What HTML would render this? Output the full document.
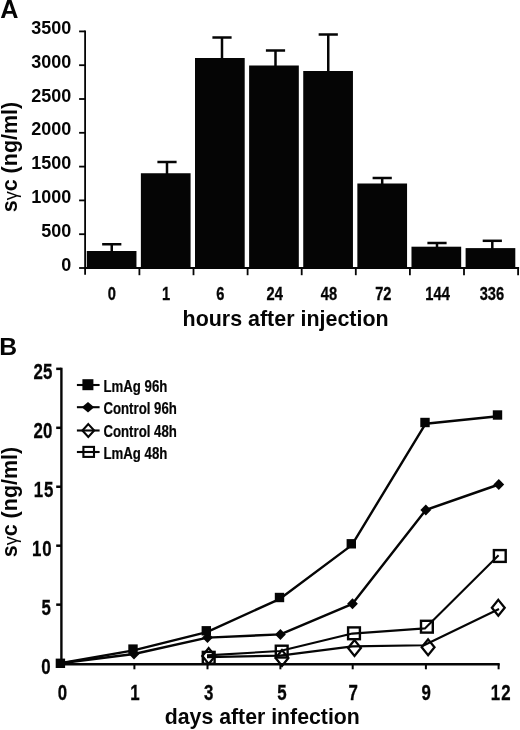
<!DOCTYPE html>
<html lang="en"><head><meta charset="utf-8"><title>Figure</title>
<style>html,body{margin:0;padding:0;background:#fff;}body{width:520px;height:730px;overflow:hidden;}svg{display:block;filter:grayscale(1);}text{font-family:"Liberation Sans", Arial, Helvetica, sans-serif;font-weight:bold;fill:#050505;}</style></head><body>
<svg width="520" height="730" viewBox="0 0 520 730">
<rect x="0" y="0" width="520" height="730" fill="#ffffff"/>
<text x="0.20" y="18.30" font-size="25.20" text-anchor="start">A</text>
<g stroke="#050505" stroke-width="1.8" fill="none" stroke-linecap="butt">
<line x1="85.10" y1="30.50" x2="85.10" y2="274.80"/>
<line x1="79.1" y1="268.00" x2="85.10" y2="268.00"/>
<line x1="79.1" y1="234.20" x2="85.10" y2="234.20"/>
<line x1="79.1" y1="200.40" x2="85.10" y2="200.40"/>
<line x1="79.1" y1="166.60" x2="85.10" y2="166.60"/>
<line x1="79.1" y1="132.80" x2="85.10" y2="132.80"/>
<line x1="79.1" y1="99.00" x2="85.10" y2="99.00"/>
<line x1="79.1" y1="65.20" x2="85.10" y2="65.20"/>
<line x1="79.1" y1="31.40" x2="85.10" y2="31.40"/>
<line x1="84.10" y1="268.00" x2="519.10" y2="268.00"/>
<line x1="139.40" y1="268.00" x2="139.40" y2="275.2"/>
<line x1="193.50" y1="268.00" x2="193.50" y2="275.2"/>
<line x1="247.60" y1="268.00" x2="247.60" y2="275.2"/>
<line x1="301.70" y1="268.00" x2="301.70" y2="275.2"/>
<line x1="355.80" y1="268.00" x2="355.80" y2="275.2"/>
<line x1="409.90" y1="268.00" x2="409.90" y2="275.2"/>
<line x1="464.00" y1="268.00" x2="464.00" y2="275.2"/>
<line x1="518.10" y1="268.00" x2="518.10" y2="275.2"/>
</g>
<text x="71.30" y="270.60" font-size="18.00" text-anchor="end">0</text>
<text x="71.30" y="236.80" font-size="18.00" text-anchor="end">500</text>
<text x="71.30" y="203.00" font-size="18.00" text-anchor="end">1000</text>
<text x="71.30" y="169.20" font-size="18.00" text-anchor="end">1500</text>
<text x="71.30" y="135.40" font-size="18.00" text-anchor="end">2000</text>
<text x="71.30" y="101.60" font-size="18.00" text-anchor="end">2500</text>
<text x="71.30" y="67.80" font-size="18.00" text-anchor="end">3000</text>
<text x="71.30" y="34.00" font-size="18.00" text-anchor="end">3500</text>
<g fill="#050505">
<rect x="86.76" y="251.00" width="49.7" height="17.50"/>
<rect x="140.88" y="173.25" width="49.7" height="95.25"/>
<rect x="195.00" y="58.00" width="49.7" height="210.50"/>
<rect x="249.12" y="65.50" width="49.7" height="203.00"/>
<rect x="303.24" y="71.00" width="49.7" height="197.50"/>
<rect x="357.36" y="183.50" width="49.7" height="85.00"/>
<rect x="411.48" y="246.70" width="49.7" height="21.80"/>
<rect x="465.60" y="248.10" width="49.7" height="20.40"/>
</g>
<g stroke="#050505" stroke-width="2.5" fill="none">
<line x1="111.75" y1="244.25" x2="111.75" y2="252.00"/>
<line x1="102.15" y1="244.25" x2="121.35" y2="244.25"/>
<line x1="167.00" y1="162.00" x2="167.00" y2="174.25"/>
<line x1="157.40" y1="162.00" x2="176.60" y2="162.00"/>
<line x1="222.00" y1="37.50" x2="222.00" y2="59.00"/>
<line x1="212.40" y1="37.50" x2="231.60" y2="37.50"/>
<line x1="275.50" y1="50.50" x2="275.50" y2="66.50"/>
<line x1="265.90" y1="50.50" x2="285.10" y2="50.50"/>
<line x1="328.25" y1="34.50" x2="328.25" y2="72.00"/>
<line x1="318.65" y1="34.50" x2="337.85" y2="34.50"/>
<line x1="382.20" y1="178.00" x2="382.20" y2="184.50"/>
<line x1="372.60" y1="178.00" x2="391.80" y2="178.00"/>
<line x1="437.00" y1="243.00" x2="437.00" y2="247.70"/>
<line x1="427.40" y1="243.00" x2="446.60" y2="243.00"/>
<line x1="492.30" y1="240.80" x2="492.30" y2="249.10"/>
<line x1="482.70" y1="240.80" x2="501.90" y2="240.80"/>
</g>
<text transform="translate(111.80 300.45) scale(0.820 1)" font-size="17.90" text-anchor="middle" stroke="#050505" stroke-width="0.3">0</text>
<text transform="translate(166.10 300.45) scale(0.820 1)" font-size="17.90" text-anchor="middle" stroke="#050505" stroke-width="0.3">1</text>
<text transform="translate(220.40 300.45) scale(0.820 1)" font-size="17.90" text-anchor="middle" stroke="#050505" stroke-width="0.3">6</text>
<text transform="translate(274.70 300.45) scale(0.820 1)" font-size="17.90" text-anchor="middle" stroke="#050505" stroke-width="0.3">24</text>
<text transform="translate(329.00 300.45) scale(0.820 1)" font-size="17.90" text-anchor="middle" stroke="#050505" stroke-width="0.3">48</text>
<text transform="translate(383.30 300.45) scale(0.820 1)" font-size="17.90" text-anchor="middle" stroke="#050505" stroke-width="0.3">72</text>
<text transform="translate(437.60 300.45) scale(0.820 1)" font-size="17.90" text-anchor="middle" stroke="#050505" stroke-width="0.3">144</text>
<text transform="translate(491.90 300.45) scale(0.820 1)" font-size="17.90" text-anchor="middle" stroke="#050505" stroke-width="0.3">336</text>
<text x="285.60" y="325.50" font-size="21.45" text-anchor="middle">hours after injection</text>
<text transform="translate(16.7 212.3) rotate(-90)" font-size="21.5" text-anchor="start">s<tspan font-weight="normal" font-size="18">γ</tspan>c (ng/ml)</text>
<text x="-0.70" y="355.10" font-size="24.70" text-anchor="start">B</text>
<g stroke="#050505" stroke-width="2.4" fill="none">
<line x1="61.40" y1="367.65" x2="61.40" y2="663.60"/>
<line x1="56.2" y1="663.60" x2="61.40" y2="663.60" stroke-width="2.5"/>
<line x1="56.2" y1="604.65" x2="61.40" y2="604.65" stroke-width="2.5"/>
<line x1="56.2" y1="545.70" x2="61.40" y2="545.70" stroke-width="2.5"/>
<line x1="56.2" y1="486.75" x2="61.40" y2="486.75" stroke-width="2.5"/>
<line x1="56.2" y1="427.80" x2="61.40" y2="427.80" stroke-width="2.5"/>
<line x1="56.2" y1="368.85" x2="61.40" y2="368.85" stroke-width="2.5"/>
</g>
<g stroke="#050505" fill="none">
<line x1="61.40" y1="664.3" x2="499.70" y2="664.3" stroke-width="2.6"/>
<line x1="134.40" y1="664" x2="134.40" y2="669.3" stroke-width="2"/>
<line x1="207.50" y1="664" x2="207.50" y2="669.3" stroke-width="2"/>
<line x1="280.40" y1="664" x2="280.40" y2="669.3" stroke-width="2"/>
<line x1="352.70" y1="664" x2="352.70" y2="669.3" stroke-width="2"/>
<line x1="425.90" y1="664" x2="425.90" y2="669.3" stroke-width="2"/>
<line x1="498.60" y1="664" x2="498.60" y2="669.3" stroke-width="2"/>
</g>
<text transform="translate(50.70 674.00) scale(0.780 1)" font-size="21.60" text-anchor="end" stroke="#050505" stroke-width="0.3">0</text>
<text transform="translate(51.00 615.05) scale(0.780 1)" font-size="21.60" text-anchor="end" stroke="#050505" stroke-width="0.3">5</text>
<text transform="translate(52.38 556.10) scale(0.780 1)" font-size="21.60" text-anchor="end" letter-spacing="1.0" stroke="#050505" stroke-width="0.3">10</text>
<text transform="translate(54.24 497.15) scale(0.780 1)" font-size="21.60" text-anchor="end" letter-spacing="1.2" stroke="#050505" stroke-width="0.3">15</text>
<text transform="translate(52.81 438.20) scale(0.780 1)" font-size="21.60" text-anchor="end" letter-spacing="0.4" stroke="#050505" stroke-width="0.3">20</text>
<text transform="translate(52.81 379.25) scale(0.780 1)" font-size="21.60" text-anchor="end" letter-spacing="0.4" stroke="#050505" stroke-width="0.3">25</text>
<text transform="translate(62.40 699.80) scale(0.780 1)" font-size="21.60" text-anchor="middle" stroke="#050505" stroke-width="0.3">0</text>
<text transform="translate(134.90 699.80) scale(0.780 1)" font-size="21.60" text-anchor="middle" stroke="#050505" stroke-width="0.3">1</text>
<text transform="translate(208.60 699.80) scale(0.780 1)" font-size="21.60" text-anchor="middle" stroke="#050505" stroke-width="0.3">3</text>
<text transform="translate(282.00 699.80) scale(0.780 1)" font-size="21.60" text-anchor="middle" stroke="#050505" stroke-width="0.3">5</text>
<text transform="translate(353.30 699.80) scale(0.780 1)" font-size="21.60" text-anchor="middle" stroke="#050505" stroke-width="0.3">7</text>
<text transform="translate(426.20 699.80) scale(0.780 1)" font-size="21.60" text-anchor="middle" stroke="#050505" stroke-width="0.3">9</text>
<text transform="translate(501.20 699.80) scale(0.780 1)" font-size="21.60" text-anchor="middle" letter-spacing="1.4" stroke="#050505" stroke-width="0.3">12</text>
<text x="262.30" y="724.00" font-size="21.27" text-anchor="middle">days after infection</text>
<text transform="translate(17.3 557.3) rotate(-90)" font-size="21.5" text-anchor="start">s<tspan font-weight="normal" font-size="18">γ</tspan>c (ng/ml)</text>
<polyline points="207.0,657.1 280.0,655.6 352.5,646.4 424.0,645.3 499.0,609.0" fill="none" stroke="#050505" stroke-width="2.10" stroke-linejoin="round"/>
<polygon points="208.70,648.10 215.10,656.00 208.70,663.90 202.30,656.00" fill="none" stroke="#050505" stroke-width="2.3" stroke-linejoin="miter"/>
<polygon points="282.00,650.10 288.40,658.00 282.00,665.90 275.60,658.00" fill="none" stroke="#050505" stroke-width="2.3" stroke-linejoin="miter"/>
<polygon points="354.50,640.10 360.90,648.00 354.50,655.90 348.10,648.00" fill="none" stroke="#050505" stroke-width="2.3" stroke-linejoin="miter"/>
<polygon points="428.10,639.40 434.50,647.30 428.10,655.20 421.70,647.30" fill="none" stroke="#050505" stroke-width="2.3" stroke-linejoin="miter"/>
<polygon points="498.30,599.90 504.70,607.80 498.30,615.70 491.90,607.80" fill="none" stroke="#050505" stroke-width="2.3" stroke-linejoin="miter"/>
<polyline points="207.0,655.4 280.0,651.0 352.3,633.6 424.9,628.4 498.6,555.3" fill="none" stroke="#050505" stroke-width="2.10" stroke-linejoin="round"/>
<rect x="202.80" y="651.90" width="11.80" height="11.80" fill="none" stroke="#050505" stroke-width="2.4"/>
<rect x="275.80" y="645.70" width="11.80" height="11.80" fill="none" stroke="#050505" stroke-width="2.4"/>
<rect x="348.10" y="627.40" width="11.80" height="11.80" fill="none" stroke="#050505" stroke-width="2.4"/>
<rect x="421.00" y="620.80" width="11.80" height="11.80" fill="none" stroke="#050505" stroke-width="2.4"/>
<rect x="493.90" y="550.10" width="11.80" height="11.80" fill="none" stroke="#050505" stroke-width="2.4"/>
<polyline points="60.4,663.3 134.0,654.0 207.5,637.6 280.4,634.4 352.5,603.8 425.8,510.0 498.8,484.5" fill="none" stroke="#050505" stroke-width="2.40" stroke-linejoin="round"/>
<polygon points="134.00,648.50 139.40,654.00 134.00,659.50 128.60,654.00" fill="#050505"/>
<polygon points="207.50,632.10 212.90,637.60 207.50,643.10 202.10,637.60" fill="#050505"/>
<polygon points="280.40,628.90 285.80,634.40 280.40,639.90 275.00,634.40" fill="#050505"/>
<polygon points="352.50,598.30 357.90,603.80 352.50,609.30 347.10,603.80" fill="#050505"/>
<polygon points="425.80,504.50 431.20,510.00 425.80,515.50 420.40,510.00" fill="#050505"/>
<polygon points="498.80,479.00 504.20,484.50 498.80,490.00 493.40,484.50" fill="#050505"/>
<polyline points="60.4,663.3 133.5,650.4 206.8,632.1 280.0,598.8 351.8,545.1 425.5,423.8 498.0,416.3" fill="none" stroke="#050505" stroke-width="2.40" stroke-linejoin="round"/>
<rect x="55.70" y="658.60" width="9.40" height="9.40" fill="#050505"/>
<rect x="128.30" y="644.40" width="9.40" height="9.40" fill="#050505"/>
<rect x="201.60" y="626.10" width="9.40" height="9.40" fill="#050505"/>
<rect x="274.80" y="592.80" width="9.40" height="9.40" fill="#050505"/>
<rect x="346.60" y="539.10" width="9.40" height="9.40" fill="#050505"/>
<rect x="420.30" y="417.80" width="9.40" height="9.40" fill="#050505"/>
<rect x="492.80" y="410.30" width="9.40" height="9.40" fill="#050505"/>
<line x1="76.90" y1="385.00" x2="99.60" y2="385.00" stroke="#050505" stroke-width="2.1"/>
<rect x="82.40" y="379.20" width="11.00" height="11.00" fill="#050505"/>
<text transform="translate(103.40 391.90) scale(0.827 1)" font-size="16.00" text-anchor="start" stroke="#050505" stroke-width="0.2">LmAg 96h</text>
<line x1="76.90" y1="407.20" x2="99.60" y2="407.20" stroke="#050505" stroke-width="2.1"/>
<polygon points="88.00,402.00 94.20,407.20 88.00,412.40 81.80,407.20" fill="#050505"/>
<text transform="translate(103.40 414.10) scale(0.827 1)" font-size="16.00" text-anchor="start" stroke="#050505" stroke-width="0.2">Control 96h</text>
<line x1="76.90" y1="430.50" x2="99.60" y2="430.50" stroke="#050505" stroke-width="2.1"/>
<polygon points="88.30,424.10 94.20,430.50 88.30,436.90 82.40,430.50" fill="none" stroke="#050505" stroke-width="2.1"/>
<text transform="translate(103.40 437.40) scale(0.827 1)" font-size="16.00" text-anchor="start" stroke="#050505" stroke-width="0.2">Control 48h</text>
<line x1="76.90" y1="452.00" x2="99.60" y2="452.00" stroke="#050505" stroke-width="2.1"/>
<rect x="83.40" y="446.90" width="10.6" height="10" fill="none" stroke="#050505" stroke-width="2.1"/>
<text transform="translate(103.40 458.90) scale(0.827 1)" font-size="16.00" text-anchor="start" stroke="#050505" stroke-width="0.2">LmAg 48h</text>
</svg></body></html>
